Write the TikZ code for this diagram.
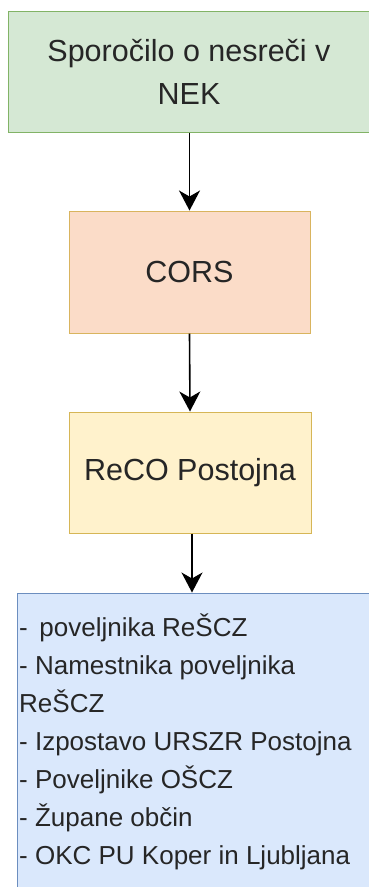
\documentclass[tikz,border=0pt]{standalone}
\usepackage{fontspec}
\setmainfont{Liberation Sans}
\usetikzlibrary{arrows.meta}
\definecolor{gfill}{HTML}{D5E8D4}\definecolor{gdraw}{HTML}{82B366}
\definecolor{ofill}{HTML}{FBDCC8}\definecolor{odraw}{HTML}{D9B45E}
\definecolor{yfill}{HTML}{FFF2CC}\definecolor{ydraw}{HTML}{D6B656}
\definecolor{bfill}{HTML}{DAE8FC}\definecolor{bdraw}{HTML}{6C8EBF}
\definecolor{txt}{HTML}{262626}
\tikzset{
  boxstyle/.style={rectangle, line width=1pt, inner sep=0pt, text=txt, align=center},
  flowarrow/.style={line width=1.6pt, -{Stealth[length=20pt, width=21pt, inset=6pt]}},
}
\begin{document}
\begin{tikzpicture}[x=1pt,y=-1pt]
\useasboundingbox (0,0) rectangle (369,887);
\fill[white] (0,0) rectangle (369,887);
\node[boxstyle, fill=gfill, draw=gdraw, minimum width=362pt, minimum height=121pt,
      font=\fontsize{30.5}{43}\selectfont] (a) at (189,71.5) {Sporočilo o nesreči v\\NEK};
\node[boxstyle, fill=ofill, draw=odraw, minimum width=241pt, minimum height=122pt,
      font=\fontsize{30.5}{36}\selectfont] (b) at (189.5,272) {CORS};
\node[boxstyle, fill=yfill, draw=ydraw, minimum width=242pt, minimum height=121pt,
      font=\fontsize{30.5}{36}\selectfont] (c) at (190,472.5) {ReCO Postojna};
\node[boxstyle, fill=bfill, draw=bdraw, minimum width=356pt, minimum height=300pt,
      anchor=north west] (d) at (16.5,592.5) {};
\coordinate (din) at (192,592.5);
\node[text=txt, align=left, inner sep=0pt, anchor=north west,
      font=\fontsize{26}{38}\selectfont] (dt) at (19,614)
  {- \,poveljnika ReŠCZ\\- Namestnika poveljnika\\ReŠCZ\\- Izpostavo URSZR Postojna\\- Poveljnike OŠCZ\\- Župane občin\\- OKC PU Koper in Ljubljana};
\draw[flowarrow] (a.south -| b.north) -- (b.north);
\draw[flowarrow] (b.south) -- (c.north);
\draw[flowarrow] (c.south -| din) -- (din);
\end{tikzpicture}
\end{document}
